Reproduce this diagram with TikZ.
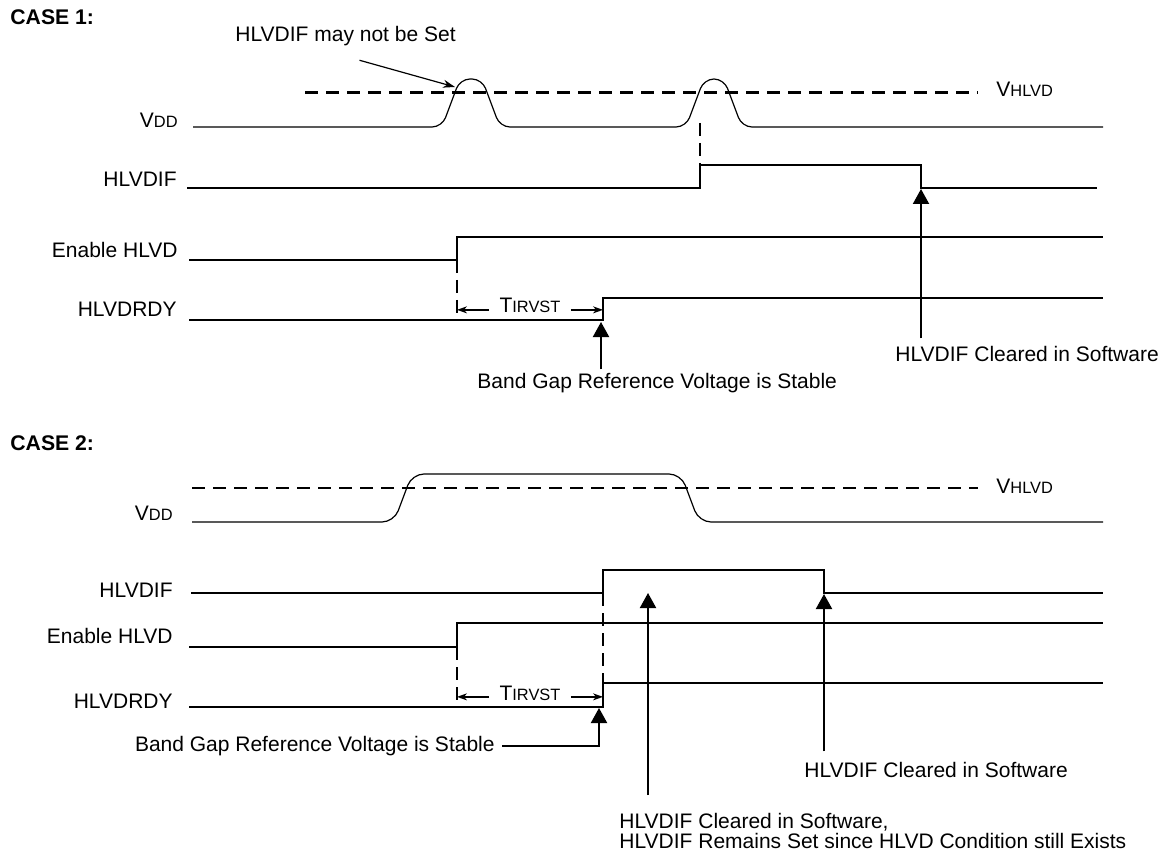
\documentclass[tikz,border=0pt]{standalone}
\usepackage{fontspec}
\setmainfont{Liberation Sans}
\usepackage{tikz}
\usetikzlibrary{arrows,arrows.meta,positioning,calc}
\newcommand{\subcap}[1]{{\fontsize{8.2}{9}\selectfont #1}}

\begin{document}
\begin{tikzpicture}[x=0.5pt, y=-0.5pt,
  lbl/.style={anchor=base east, inner sep=0pt},
  note/.style={inner sep=0pt},
  casetitle/.style={anchor=west, inner sep=0pt, font=\fontsize{10.6}{12}\selectfont\bfseries},
  supply/.style={line width=0.6pt, rounded corners=5pt},
  wave/.style={line width=0.9pt},
  thresh/.style={line width=1.1pt, dash pattern=on 6.5pt off 4pt},
  guide/.style={line width=1.1pt, dash pattern=on 6.5pt off 3.5pt},
  pointer/.style={line width=1pt, -{Triangle[width=8pt,length=7.5pt]}},
  span/.style={line width=0.8pt, -{Stealth[length=5pt,width=3.5pt]}},
  every node/.style={font=\fontsize{10.5}{9.6}\selectfont}
]
  \useasboundingbox (0,0) rectangle (1167,850);

  % CASE 1
  \node[casetitle] (case1) at (10,17) {CASE 1:};

  % Supply and threshold
  \node[lbl] (vdd1) at (178,128) {V\subcap{DD}};
  \draw[thresh] (305,92.5) -- (978,92.5);
  \node[note, anchor=base west] (vhl1) at (996,97) {V\subcap{HLVD}};
  \draw[supply] (193,127) -- (442,127) -- (460,79) -- (482,79) -- (500,127)
    -- (686,127) -- (704,79) -- (724,79) -- (742,127) -- (1103,127);
  \coordinate (miss1) at (455,87);
  \node[note, anchor=base west] (maynot) at (235,41.5) {HLVDIF may not be Set};
  \draw[line width=0.6pt, -{Stealth[length=6pt,width=4pt]}] ([xshift=7pt,yshift=-7pt]maynot.south) -- (miss1);

  % Flag, enable, ready
  \coordinate (set1) at (700,165);
  \coordinate (fall1) at (921,188);
  \coordinate (en1) at (457,260);
  \coordinate (rdy1) at (603,320);
  \node[lbl] (if1) at (177,187) {HLVDIF};
  \draw[wave] (187,188) -- (700,188) -- (set1) -- (921,165) -- (fall1) -- (1097,188);
  \draw[guide] (700,123) -- (set1);
  \node[lbl] (enl1) at (178,257) {Enable HLVD};
  \draw[wave] (189,260) -- (en1) -- (457,237) -- (1103,237);
  \node[lbl] (rdyl1) at (177,316) {HLVDRDY};
  \draw[wave] (189,320) -- (rdy1) -- (603,298) -- (1103,298);
  \draw[guide] (en1) -- (457,320);

  % Timing span and notes
  \node[note, anchor=base, inner xsep=5pt] (tir1) at (530,313) {T\subcap{IRVST}};
  \draw[span] ([yshift=-2pt]tir1.west) -- ([yshift=-2pt]tir1.west -| en1);
  \draw[span] ([yshift=-2pt]tir1.east) -- ([yshift=-2pt]tir1.east -| rdy1);
  \node[note, anchor=base west] (gap1) at (477,388) {Band Gap Reference Voltage is Stable};
  \draw[pointer] ([xshift=-1pt,yshift=1.5pt]gap1.north -| rdy1) -- ([xshift=-1pt,yshift=-1pt]rdy1);
  \node[note, anchor=base west] (clr1) at (895,361) {HLVDIF Cleared in Software};
  \draw[pointer] ([yshift=3.5pt]clr1.north -| fall1) -- ([yshift=-0.5pt]fall1);

  % CASE 2
  \node[casetitle] (case2) at (10,443) {CASE 2:};

  % Supply and threshold
  \node[lbl] (vdd2) at (173,520) {V\subcap{DD}};
  \draw[thresh] (192,488) -- (978,488);
  \node[note, anchor=base west] (vhl2) at (996,493) {V\subcap{HLVD}};
  \draw[supply, rounded corners=6pt] (192,522) -- (394,522) -- (412,474) -- (681,474)
    -- (699,522) -- (1103,522);

  % Flag, enable, ready
  \coordinate (set2) at (603,593);
  \coordinate (hi2) at (648,570);
  \coordinate (fall2) at (824,593);
  \coordinate (en2) at (457,647);
  \coordinate (rdy2) at (603,707);
  \node[lbl] (if2) at (173,597) {HLVDIF};
  \draw[wave] (191,593) -- (set2) -- (603,570) -- (824,570) -- (fall2) -- (1103,593);
  \node[lbl] (enl2) at (173,643) {Enable HLVD};
  \draw[wave] (189,647) -- (en2) -- (457,623) -- (1103,623);
  \node[lbl] (rdyl2) at (173,708) {HLVDRDY};
  \draw[wave] (189,707) -- (rdy2) -- (603,683) -- (1103,683);
  \draw[guide] (en2) -- (457,707);
  \draw[guide] (set2) -- (603,683);

  % Timing span and notes
  \node[note, anchor=base, inner xsep=5pt] (tir2) at (530,700) {T\subcap{IRVST}};
  \draw[span] ([yshift=-2pt]tir2.west) -- ([yshift=-2pt]tir2.west -| en2);
  \draw[span] ([yshift=-2pt]tir2.east) -- ([yshift=-2pt]tir2.east -| rdy2);
  \node[note, anchor=east] (gap2) at (495,746) {Band Gap Reference Voltage is Stable};
  \draw[pointer] ([xshift=3.5pt]gap2.east) -| ([xshift=-2pt,yshift=-0.5pt]rdy2);
  \node[note, anchor=base west, align=left] (keep2) at (619,848)
    {HLVDIF Cleared in Software,\\HLVDIF Remains Set since HLVD Condition still Exists};
  \draw[pointer] ([yshift=9pt]keep2.north -| hi2) -- ([yshift=-11.5pt]hi2);
  \node[note, anchor=base west] (clr2) at (804,777) {HLVDIF Cleared in Software};
  \draw[pointer] ([yshift=5pt]clr2.north -| fall2) -- ([yshift=-0.5pt]fall2);
\end{tikzpicture}
\end{document}
